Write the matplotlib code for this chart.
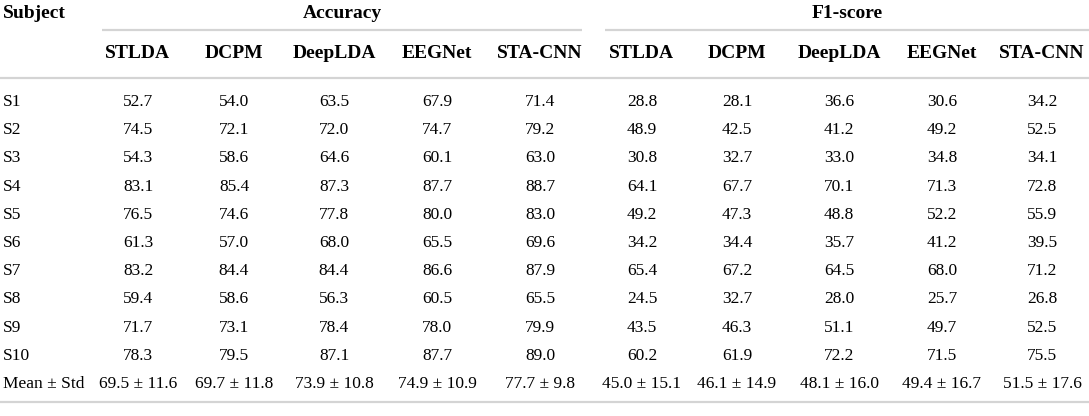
import matplotlib
matplotlib.use("Agg")
import matplotlib.pyplot as plt

methods = ["STLDA", "DCPM", "DeepLDA", "EEGNet", "STA-CNN"]
groups = ["Accuracy", "F1-score"]
subjects = ["S1", "S2", "S3", "S4", "S5", "S6", "S7", "S8", "S9", "S10"]

accuracy = [
    [52.7, 54.0, 63.5, 67.9, 71.4],
    [74.5, 72.1, 72.0, 74.7, 79.2],
    [54.3, 58.6, 64.6, 60.1, 63.0],
    [83.1, 85.4, 87.3, 87.7, 88.7],
    [76.5, 74.6, 77.8, 80.0, 83.0],
    [61.3, 57.0, 68.0, 65.5, 69.6],
    [83.2, 84.4, 84.4, 86.6, 87.9],
    [59.4, 58.6, 56.3, 60.5, 65.5],
    [71.7, 73.1, 78.4, 78.0, 79.9],
    [78.3, 79.5, 87.1, 87.7, 89.0],
]
f1_score = [
    [28.8, 28.1, 36.6, 30.6, 34.2],
    [48.9, 42.5, 41.2, 49.2, 52.5],
    [30.8, 32.7, 33.0, 34.8, 34.1],
    [64.1, 67.7, 70.1, 71.3, 72.8],
    [49.2, 47.3, 48.8, 52.2, 55.9],
    [34.2, 34.4, 35.7, 41.2, 39.5],
    [65.4, 67.2, 64.5, 68.0, 71.2],
    [24.5, 32.7, 28.0, 25.7, 26.8],
    [43.5, 46.3, 51.1, 49.7, 52.5],
    [60.2, 61.9, 72.2, 71.5, 75.5],
]
acc_mean = [69.5, 69.7, 73.9, 74.9, 77.7]
acc_std = [11.6, 11.8, 10.8, 10.9, 9.8]
f1_mean = [45.0, 46.1, 48.1, 49.4, 51.5]
f1_std = [15.1, 14.9, 16.0, 16.7, 17.6]

# layout (pixels)
W, H = 1089, 416
col_x = [138, 234, 334, 437, 540, 642, 737, 839, 942, 1042]
group_span = [(102, 582), (605, 1089)]
y_group, y_head, y_row0, row_step = 13, 53, 102, 28.2
line_color = "#d4d4d4"
font = "Liberation Serif"
body_size = 12.5
head_size = 14

fig = plt.figure(figsize=(W / 100, H / 100), dpi=100)
ax = fig.add_axes([0, 0, 1, 1])
ax.set_xlim(0, W)
ax.set_ylim(H, 0)
ax.axis("off")

# header
ax.text(3, y_group, "Subject", ha="left", va="center", fontsize=head_size,
        fontweight="bold", family=font)
for g, (x0, x1) in zip(groups, group_span):
    ax.text((x0 + x1) / 2, y_group, g, ha="center", va="center",
            fontsize=head_size, fontweight="bold", family=font)
    ax.plot([x0, x1], [30, 30], color=line_color, lw=1.6, solid_capstyle="butt")
for i, m in enumerate(methods * 2):
    ax.text(col_x[i], y_head, m, ha="center", va="center", fontsize=head_size,
            fontweight="bold", family=font)
ax.plot([0, W], [78, 78], color=line_color, lw=1.6)

# body
for r, s in enumerate(subjects):
    y = y_row0 + r * row_step
    ax.text(3, y, s, ha="left", va="center", fontsize=body_size, family=font)
    vals = accuracy[r] + f1_score[r]
    for i, v in enumerate(vals):
        ax.text(col_x[i], y, f"{v:.1f}", ha="center", va="center",
                fontsize=body_size, family=font)

y = y_row0 + len(subjects) * row_step
ax.text(3, y, "Mean \u00b1 Std", ha="left", va="center", fontsize=body_size, family=font)
means = acc_mean + f1_mean
stds = acc_std + f1_std
for i, (m, sd) in enumerate(zip(means, stds)):
    ax.text(col_x[i], y, f"{m:.1f} \u00b1 {sd:.1f}", ha="center", va="center",
            fontsize=body_size, family=font)
ax.plot([0, W], [y + 18, y + 18], color=line_color, lw=1.6)

fig.savefig("out.png", dpi=100)
